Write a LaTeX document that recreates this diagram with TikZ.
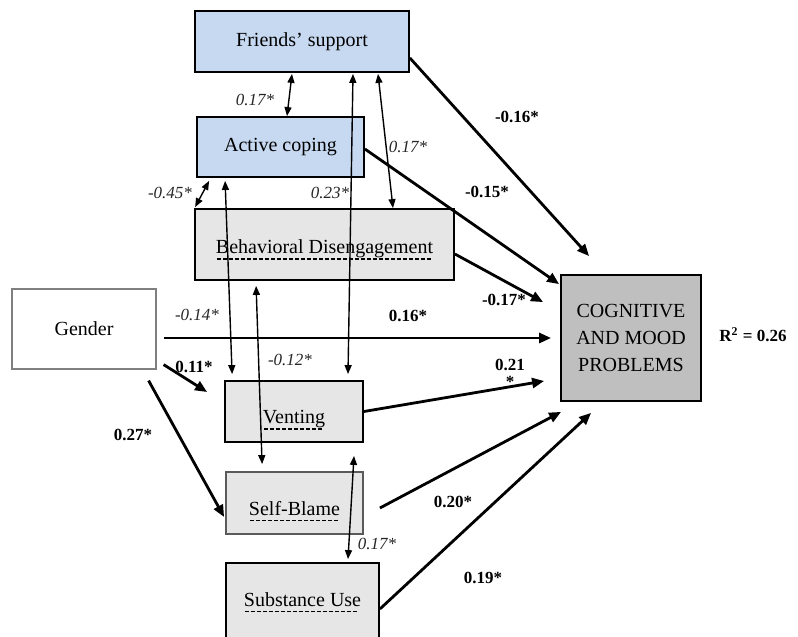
\documentclass[tikz,border=0pt]{standalone}
\usepackage{fontspec}
\setmainfont{Liberation Serif}
\usepackage{tikz}
\usetikzlibrary{calc, arrows.meta}
\definecolor{supportBlue}{RGB}{198, 217, 241}
\definecolor{copeGray}{RGB}{230, 230, 230}
\definecolor{outGray}{RGB}{191, 191, 191}
\definecolor{edgeGray}{RGB}{128, 128, 128}
\newsavebox{\undbox}
\newcommand{\dashund}[1]{\sbox{\undbox}{#1}\rlap{\usebox{\undbox}}\hbox to \wd\undbox{\leaders\hbox to 3pt{\hss\rule[-3.2pt]{2pt}{0.75pt}\hss}\hfill}}

\begin{document}
\begin{tikzpicture}[x=0.5pt, y=-0.5pt, font=\fontsize{10}{12}\selectfont,
  varbox/.style={draw, line width=0.9pt, inner sep=0pt},
  effect/.style={-{Triangle[length=6pt, width=5pt]}, line width=1.4pt},
  cov/.style={{Triangle[length=4.5pt, width=3.5pt]}-{Triangle[length=4.5pt, width=3.5pt]}, line width=0.7pt},
  corr/.style={font=\fontsize{8.5}{10}\selectfont\itshape, text=black!85},
  beta/.style={font=\fontsize{8.5}{10}\selectfont\bfseries}]
  \useasboundingbox (0,0) rectangle (798,637);

  % variables
  \node[varbox, fill=supportBlue, minimum width=107pt, minimum height=30.5pt] (fs) at (302,41.5) {Friends' support};
  \node[varbox, fill=supportBlue, minimum width=83.5pt, minimum height=30pt] (ac) at (280.5,147) {Active coping};
  \node[varbox, fill=copeGray, minimum width=129.5pt, minimum height=35.5pt, text height=9pt, text depth=0pt] (bd) at (324.5,244.5) {\dashund{Behavioral Disengagement}};
  \node[varbox, draw=edgeGray, line width=0.6pt, fill=white, minimum width=72pt, minimum height=40pt] (gen) at (84,329) {Gender};
  \node[varbox, fill=copeGray, minimum width=69pt, minimum height=30.5pt, text height=12pt, text depth=0pt] (ven) at (294,411.5) {\dashund{Venting}};
  \node[varbox, draw=edgeGray!70!black, fill=copeGray, minimum width=68.5pt, minimum height=31pt, text height=12pt, text depth=0pt] (sb) at (294.5,503) {\dashund{Self-Blame}};
  \node[varbox, fill=copeGray, minimum width=76.5pt, minimum height=41pt, text height=4pt, text depth=2pt] (su) at (302.5,604) {\dashund{Substance Use}};
  \node[varbox, fill=outGray, minimum width=70pt, minimum height=63pt, align=center, font=\fontsize{10}{13.7}\selectfont] (cog) at (631,338) {COGNITIVE\\AND MOOD\\PROBLEMS};
  \node[font=\fontsize{8.5}{10}\selectfont\bfseries] (rsq) at (753,335) {R\textsuperscript{2} = 0.26};

  % direct effects
  \draw[effect] ($(fs.east)+(0,16.5)$) -- ($(cog.north west)+(29,-18)$);
  \draw[effect] ($(ac.east)+(0,2)$) -- ($(cog.north west)+(-1,10)$);
  \draw[effect] ($(bd.east)+(0,9.5)$) -- ($(cog.north west)+(-17,28)$);
  \draw[effect] ($(gen.east)+(7,9)$) -- ($(cog.west)+(-9,0)$);
  \draw[effect] (ven.east) -- ($(cog.west)+(-16,43)$);
  \draw[effect] ($(sb.east)+(16,5)$) -- ($(cog.south west)+(1,10)$);
  \draw[effect] ($(su.east)+(0,5)$) -- ($(cog.south west)+(31,11)$);
  \draw[effect] ($(gen.south east)+(7,-5)$) -- ($(ven.west)+(-17,-19.5)$);
  \draw[effect] ($(gen.south east)+(-8,11)$) -- ($(sb.west)+(-1,14)$);

  % correlations
  \draw[cov] ($(fs.south)+(-10,1)$) -- ($(ac.north)+(6.5,0)$);
  \draw[cov] ($(fs.south)+(51,1)$) -- ($(ven.north)+(54,-6)$);
  \draw[cov] ($(fs.south)+(76,1)$) -- ($(bd.north)+(68.5,0)$);
  \draw[cov] ($(ac.south west)+(13,3)$) -- ($(bd.north west)+(1,-1)$);
  \draw[cov] ($(ac.south west)+(29,3)$) -- ($(ven.north west)+(8,-6)$);
  \draw[cov] ($(bd.south west)+(62,5)$) -- ($(sb.north west)+(37,-7)$);
  \draw[cov] ($(ven.south)+(60,13)$) -- ($(su.north)+(45.5,-3)$);

  % coefficients
  \node[corr] (rFsAc) at (255,100) {0.17*};
  \node[corr] (rFsVe) at (330,193) {0.23*};
  \node[corr] (rFsBd) at (408,147) {0.17*};
  \node[corr] (rAcBd) at (170,193) {-0.45*};
  \node[corr] (rAcVe) at (197,315) {-0.14*};
  \node[corr] (rBdSb) at (290,360) {-0.12*};
  \node[corr] (rVeSu) at (377,544) {0.17*};
  \node[beta] (bFs) at (517,117) {-0.16*};
  \node[beta] (bAc) at (487,192) {-0.15*};
  \node[beta] (bBd) at (504,300) {-0.17*};
  \node[beta] (bGen) at (408,316) {0.16*};
  \node[beta, align=center, font=\fontsize{8.5}{8.5}\selectfont\bfseries] (bVe) at (510,373) {0.21\\*};
  \node[beta] (bGenVe) at (194,367) {0.11*};
  \node[beta] (bGenSb) at (133,435) {0.27*};
  \node[beta] (bSb) at (453,502) {0.20*};
  \node[beta] (bSu) at (483,578) {0.19*};
\end{tikzpicture}
\end{document}
